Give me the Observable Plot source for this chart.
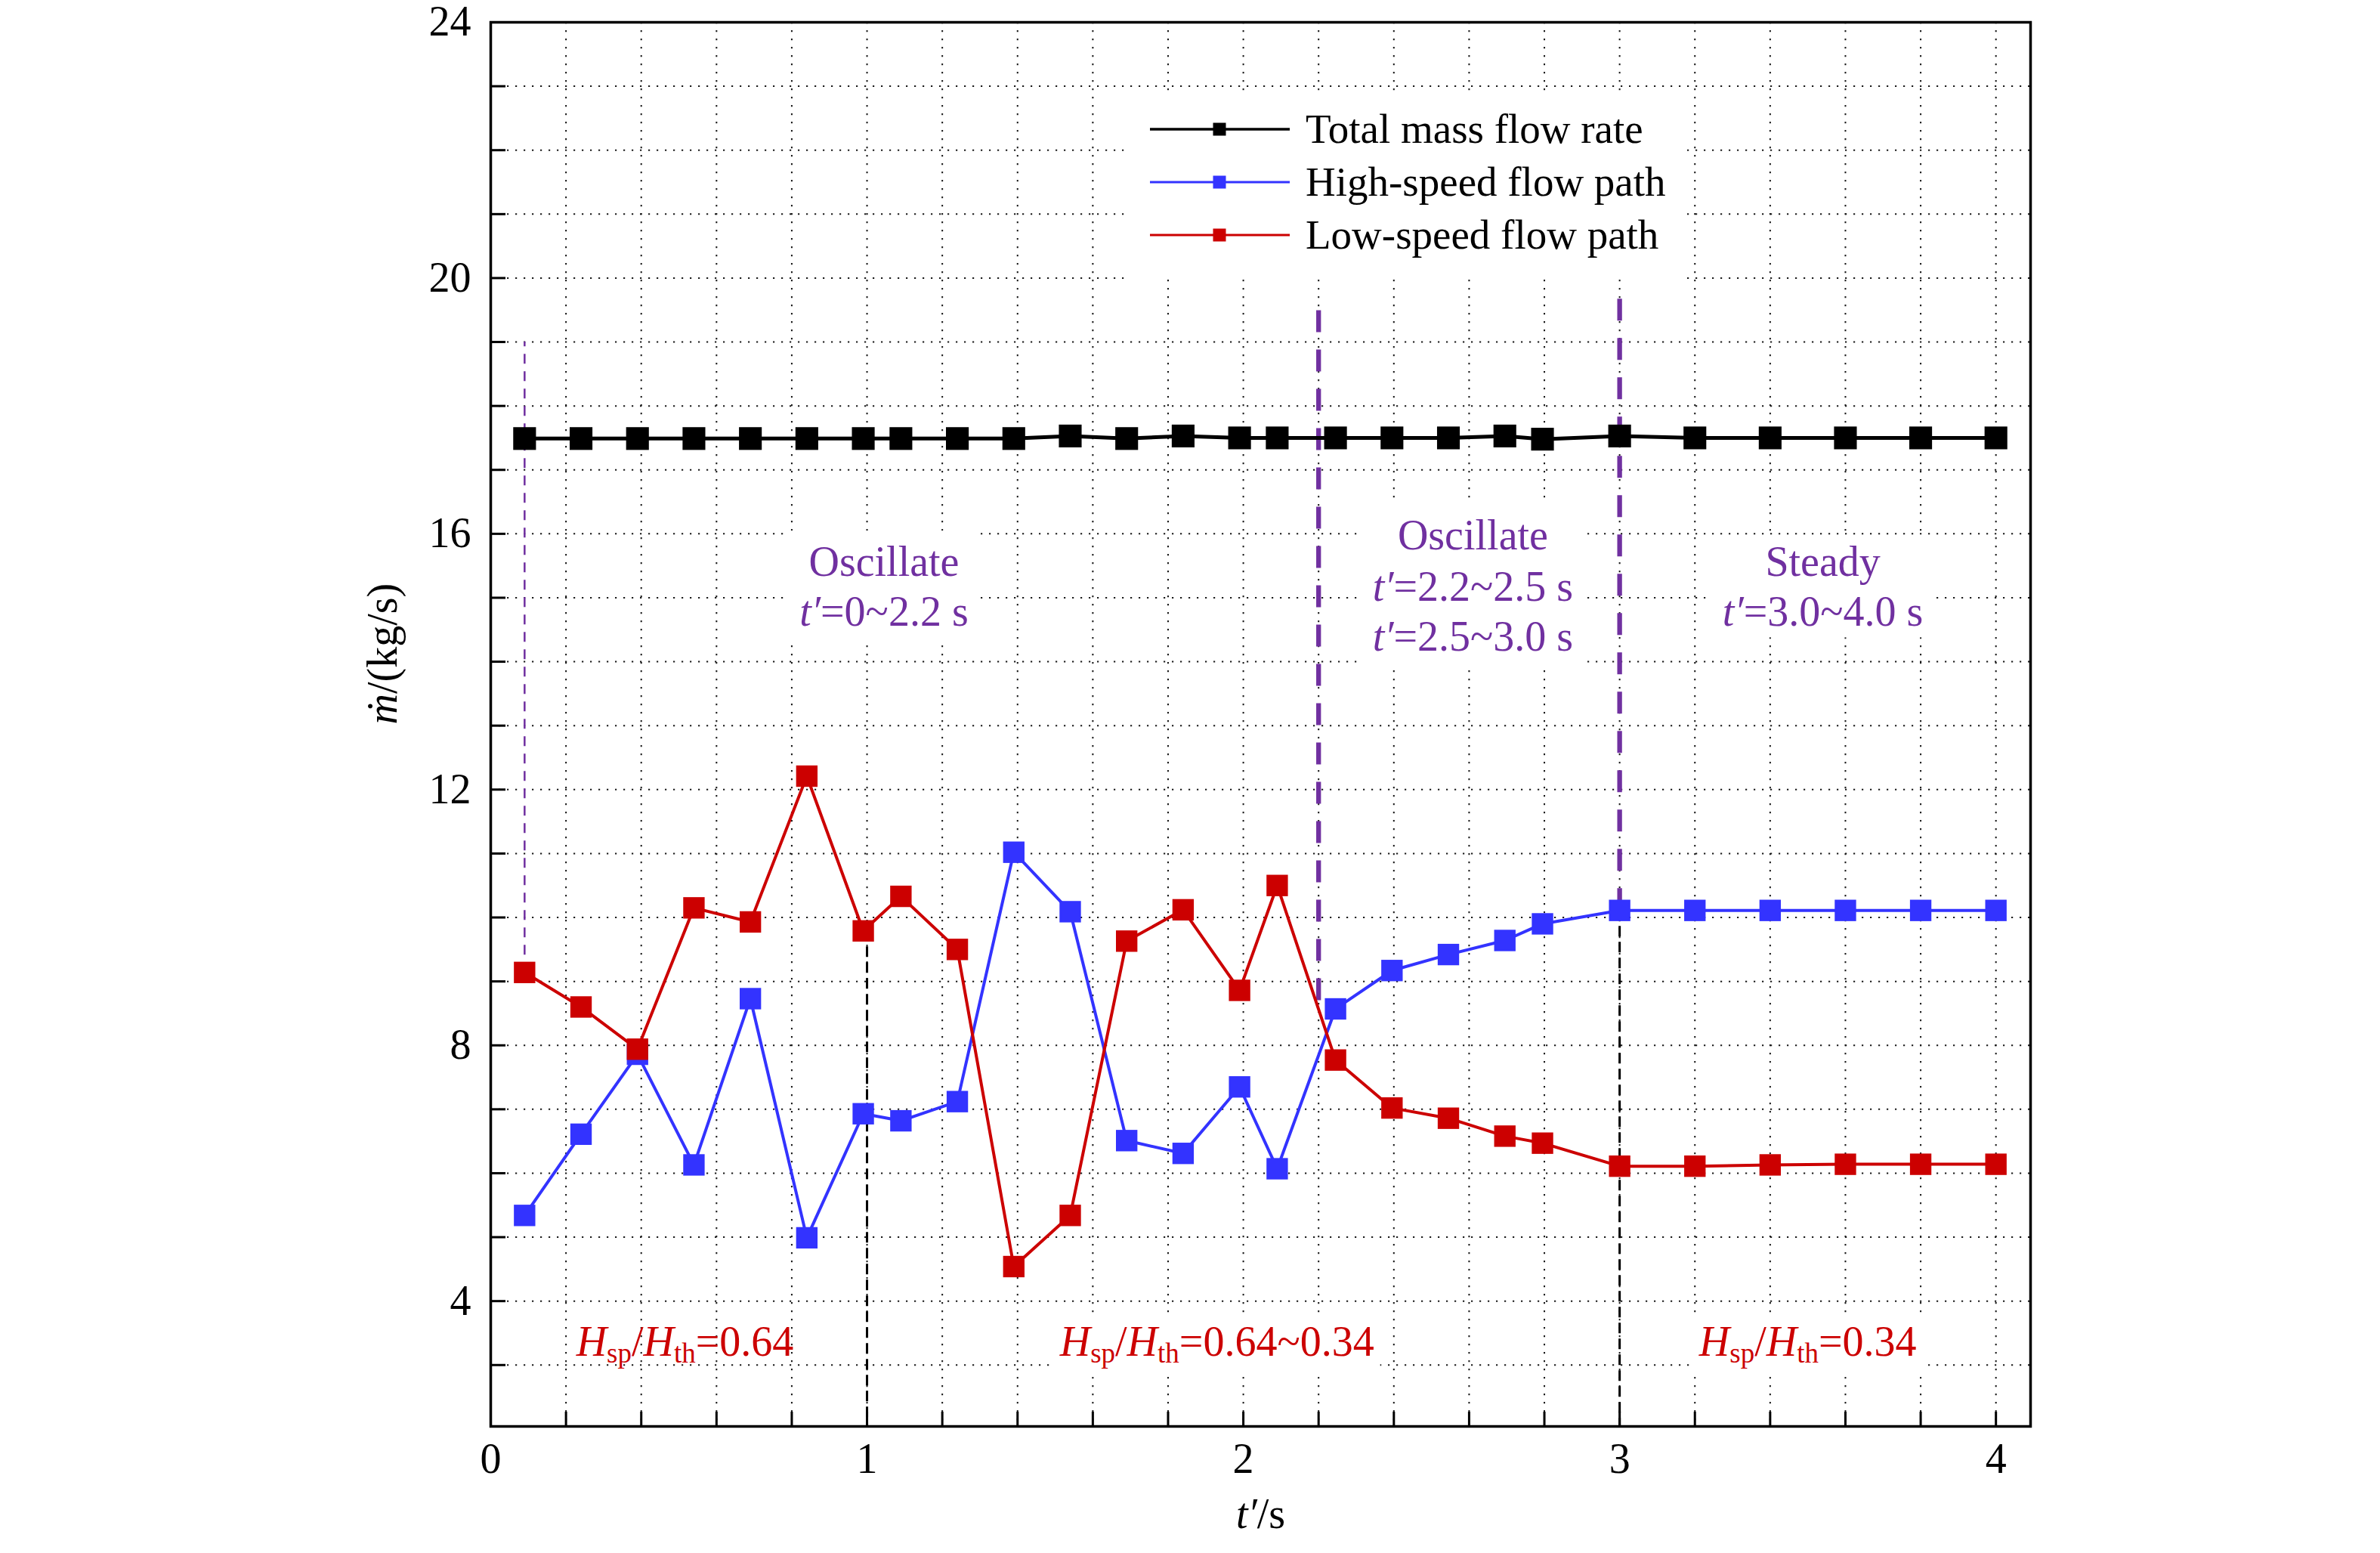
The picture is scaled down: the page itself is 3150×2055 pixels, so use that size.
<!DOCTYPE html>
<html>
<head>
<meta charset="utf-8">
<script src="https://cdn.jsdelivr.net/npm/d3@7"></script>
<script src="https://cdn.jsdelivr.net/npm/@observablehq/plot@0.6"></script>
<style>
html, body { margin: 0; padding: 0; background: #fff; }
#wrap { position: relative; width: 3150px; height: 2055px; font-family: "Liberation Serif", "Times New Roman", serif; }
#legend { position: absolute; left: 1488px; top: 125px; width: 737px; height: 245px; background: #fff; }
.lg-row { position: absolute; left: 0; width: 737px; height: 70px; }
.lg-row svg { position: absolute; left: 34px; top: 20px; overflow: visible; }
.lg-row span { position: absolute; left: 240px; top: 0; line-height: 70px; font-size: 55px; white-space: nowrap; color: #000; }
</style>
</head>
<body>
<div id="wrap"></div>
<script>
// ---------- data ----------
const tPoints   = [0.09, 0.24, 0.39, 0.54, 0.69, 0.84, 0.99, 1.09, 1.24, 1.39, 1.54, 1.69, 1.84, 1.99, 2.09, 2.245, 2.395, 2.545, 2.695, 2.795, 3.0, 3.2, 3.4, 3.6, 3.8, 4.0];
const totalFlow = [17.49, 17.49, 17.49, 17.49, 17.49, 17.49, 17.49, 17.49, 17.49, 17.49, 17.53, 17.49, 17.53, 17.50, 17.50, 17.50, 17.50, 17.50, 17.53, 17.48, 17.53, 17.50, 17.50, 17.50, 17.50, 17.50];
const highFlow  = [5.34, 6.61, 7.86, 6.13, 8.73, 4.99, 6.93, 6.82, 7.12, 11.02, 10.09, 6.51, 6.31, 7.35, 6.07, 8.57, 9.17, 9.42, 9.64, 9.90, 10.11, 10.11, 10.11, 10.11, 10.11, 10.11];
const lowFlow   = [9.14, 8.60, 7.94, 10.15, 9.93, 12.21, 9.79, 10.33, 9.50, 4.54, 5.34, 9.63, 10.12, 8.86, 10.50, 7.77, 7.02, 6.86, 6.58, 6.47, 6.11, 6.11, 6.13, 6.14, 6.14, 6.14];

const seriesNames = ["Total mass flow rate", "High-speed flow path", "Low-speed flow path"];

const xMajorTicks = [0, 1, 2, 3, 4];
const xMinorTicks = [0.2, 0.4, 0.6, 0.8, 1.0, 1.2, 1.4, 1.6, 1.8, 2.0, 2.2, 2.4, 2.6, 2.8, 3.0, 3.2, 3.4, 3.6, 3.8, 4.0];
const yMajorTicks = [4, 8, 12, 16, 20, 24];
const yMinorTicks = [3, 4, 5, 6, 7, 8, 9, 10, 11, 12, 13, 14, 15, 16, 17, 18, 19, 20, 21, 22, 23];
const xDomain = [0, 4.092];
const yDomain = [2.04, 24];

// regime boundary lines (purple) and split lines (black)
const regimeX      = [0.09, 2.2, 3.0];
const regimeTop    = [19.0, 19.75, 19.75];
const regimeBottom = [9.14, 8.7, 10.11];
const splitX   = [1.0, 3.0];
const splitTop = [9.79, 10.11];

// annotations
const regimeText = ["Oscillate", "t′=0~2.2 s", "Oscillate", "t′=2.2~2.5 s", "t′=2.5~3.0 s", "Steady", "t′=3.0~4.0 s"];
const regimeTx   = [1.045, 1.045, 2.61, 2.61, 2.61, 3.54, 3.54];
const regimeTy   = [15.56, 14.77, 15.97, 15.17, 14.38, 15.56, 14.77];
const ratioText  = ["Hsp/Hth=0.64", "Hsp/Hth=0.64~0.34", "Hsp/Hth=0.34"];
const ratioTx    = [0.516, 1.93, 3.50];
const ratioTy    = [3.36, 3.36, 3.36];

const xTitle = "t′/s";
const yTitle = "ṁ/(kg/s)";

// ---------- styles ----------
const colBlack = "#000000", colBlue = "#3333ff", colRed = "#cc0000", colPurple = "#7030a0";
const seriesColors = [colBlack, colBlue, colRed];
const W = 3150, H = 2055, mL = 649, mR = 463, mT = 29, mB = 168;
const frameW = W - mL - mR, frameH = H - mT - mB;

const rows = vals => tPoints.map((t, i) => ({t, v: vals[i]}));
const idx = arr => arr.map((_, i) => i);

const plot = Plot.plot({
  width: W, height: H,
  marginLeft: mL, marginRight: mR, marginTop: mT, marginBottom: mB,
  x: {domain: xDomain},
  y: {domain: yDomain},
  style: {fontFamily: "'Liberation Serif', 'Times New Roman', serif", fontSize: "56px", background: "white", color: "#000"},
  marks: [
    // dotted grid
    Plot.ruleY(yMinorTicks, {y: d => d, stroke: "#1a1a1a", strokeWidth: 2, strokeDasharray: "2.2,8.8"}),
    Plot.ruleX(xMinorTicks, {x: d => d, stroke: "#1a1a1a", strokeWidth: 2, strokeDasharray: "2.2,8.8"}),
    // regime lines
    Plot.ruleX([0], {x: i => regimeX[i], y1: i => regimeBottom[i], y2: i => regimeTop[i], stroke: colPurple, strokeWidth: 2.5, strokeDasharray: "13,10"}),
    Plot.ruleX([1, 2], {x: i => regimeX[i], y1: i => regimeBottom[i], y2: i => regimeTop[i], stroke: colPurple, strokeWidth: 6.3, strokeDasharray: "29,23"}),
    Plot.ruleX(idx(splitX), {x: i => splitX[i], y1: i => splitTop[i], y2: () => yDomain[0], stroke: colBlack, strokeWidth: 3, strokeDasharray: "14,7"}),
    // series
    Plot.line(rows(highFlow), {x: "t", y: "v", stroke: colBlue, strokeWidth: 4}),
    Plot.dot(rows(highFlow), {x: "t", y: "v", symbol: "square", r: 16, fill: colBlue}),
    Plot.line(rows(lowFlow), {x: "t", y: "v", stroke: colRed, strokeWidth: 4}),
    Plot.dot(rows(lowFlow), {x: "t", y: "v", symbol: "square", r: 16, fill: colRed}),
    Plot.line(rows(totalFlow), {x: "t", y: "v", stroke: colBlack, strokeWidth: 5}),
    Plot.dot(rows(totalFlow), {x: "t", y: "v", symbol: "square", r: 17, fill: colBlack}),
    // annotations
    Plot.text(idx(regimeText), {x: i => regimeTx[i], y: i => regimeTy[i], text: i => regimeText[i], fill: colPurple, fontSize: 56}),
    Plot.text(idx(ratioText), {x: i => ratioTx[i], y: i => ratioTy[i], text: i => ratioText[i], fill: colRed, fontSize: 56}),
    // inward ticks
    Plot.ruleX(xMinorTicks, {x: d => d, insetTop: frameH - 19, stroke: "#000", strokeWidth: 3}),
    Plot.ruleY(yMinorTicks, {y: d => d, insetRight: frameW - 20, stroke: "#000", strokeWidth: 3}),
    // tick labels
    Plot.axisX({ticks: xMajorTicks, tickSize: 0, tickPadding: 22, label: null, tickFormat: d => String(d), fontSize: 56}),
    Plot.axisY({ticks: yMajorTicks, tickSize: 0, tickPadding: 26, label: null, tickFormat: d => String(d), fontSize: 56}),
    // axis titles
    Plot.text([xTitle], {text: d => d, frameAnchor: "bottom", dy: 134, fontSize: 56}),
    Plot.text([yTitle], {text: d => d, frameAnchor: "left", dx: -142, rotate: -90, fontSize: 56}),
    Plot.frame({stroke: "#000", strokeWidth: 3.5})
  ]
});

const wrap = document.getElementById("wrap");
wrap.appendChild(plot);

// locate mark groups before rich-text rewriting
const NS = "http://www.w3.org/2000/svg";
const allText = Array.from(plot.querySelectorAll("text"));
const regimeEls = regimeText.map(s => allText.find(t => t.textContent === s && !t.__used && (t.__used = true)));
allText.forEach(t => { t.__used = false; });
const ratioEls = ratioText.map(s => allText.find(t => t.textContent === s));
const ruleGroups = plot.querySelectorAll('g[aria-label="rule"]');
const gridX = ruleGroups[1];

// ---------- rich text (italic symbols, subscripts) ----------
const subShift = 9;
function richify(el) {
  const s = el.textContent;
  if (!/(Hsp|Hth|t′|ṁ)/.test(s)) return;
  el.textContent = "";
  const parts = s.split(/(Hsp|Hth|t′|ṁ)/).filter(p => p.length);
  let lowered = false;
  const add = (txt, opts = {}) => {
    const ts = document.createElementNS(NS, "tspan");
    ts.textContent = txt;
    if (opts.italic) ts.setAttribute("font-style", "italic");
    let dy = 0;
    if (opts.sub) { ts.setAttribute("font-size", "66%"); if (!lowered) { dy += subShift; lowered = true; } }
    else if (lowered) { dy -= subShift; lowered = false; }
    if (dy) ts.setAttribute("dy", dy);
    el.appendChild(ts);
  };
  for (const p of parts) {
    if (p === "Hsp" || p === "Hth") { add("H", {italic: true}); add(p.slice(1), {sub: true}); }
    else if (p === "t′" || p === "ṁ") add(p, {italic: true});
    else add(p);
  }
}
allText.forEach(richify);

// ---------- white label boxes that interrupt the grid ----------
const svgRect = plot.getBoundingClientRect();
const boxSpecs = [
  {els: [regimeEls[0], regimeEls[1]], padX: 14, padY: 9},
  {els: [regimeEls[2], regimeEls[3], regimeEls[4]], padX: 14, padY: 10},
  {els: [regimeEls[5], regimeEls[6]], padX: 14, padY: 3},
  {els: [ratioEls[1]], padX: 8, padY: 4},
  {els: [ratioEls[2]], padX: 8, padY: 4}
];
if (gridX) {
  const boxG = document.createElementNS(NS, "g");
  for (const b of boxSpecs) {
    let x0 = Infinity, y0 = Infinity, x1 = -Infinity, y1 = -Infinity;
    for (const el of b.els) {
      if (!el) continue;
      const r = el.getBoundingClientRect();
      x0 = Math.min(x0, r.left - svgRect.left); y0 = Math.min(y0, r.top - svgRect.top);
      x1 = Math.max(x1, r.right - svgRect.left); y1 = Math.max(y1, r.bottom - svgRect.top);
    }
    if (!isFinite(x0)) continue;
    const rect = document.createElementNS(NS, "rect");
    rect.setAttribute("x", x0 - b.padX); rect.setAttribute("y", y0 - b.padY);
    rect.setAttribute("width", x1 - x0 + 2 * b.padX); rect.setAttribute("height", y1 - y0 + 2 * b.padY);
    rect.setAttribute("fill", "#fff");
    boxG.appendChild(rect);
  }
  gridX.parentNode.insertBefore(boxG, gridX.nextSibling);
}

// ---------- legend ----------
const legend = document.createElement("div");
legend.id = "legend";
seriesNames.forEach((name, i) => {
  const row = document.createElement("div");
  row.className = "lg-row";
  row.style.top = (11 + i * 70) + "px";
  const sw = d3.create("svg").attr("width", 185).attr("height", 30);
  sw.append("line").attr("x1", 0).attr("x2", 185).attr("y1", 15).attr("y2", 15)
    .attr("stroke", seriesColors[i]).attr("stroke-width", i === 0 ? 3.7 : 3);
  sw.append("rect").attr("x", 92 - 8.5).attr("y", 15 - 8.5).attr("width", 17).attr("height", 17).attr("fill", seriesColors[i]);
  row.appendChild(sw.node());
  const sp = document.createElement("span");
  sp.textContent = name;
  row.appendChild(sp);
  legend.appendChild(row);
});
wrap.appendChild(legend);
</script>
</body>
</html>
